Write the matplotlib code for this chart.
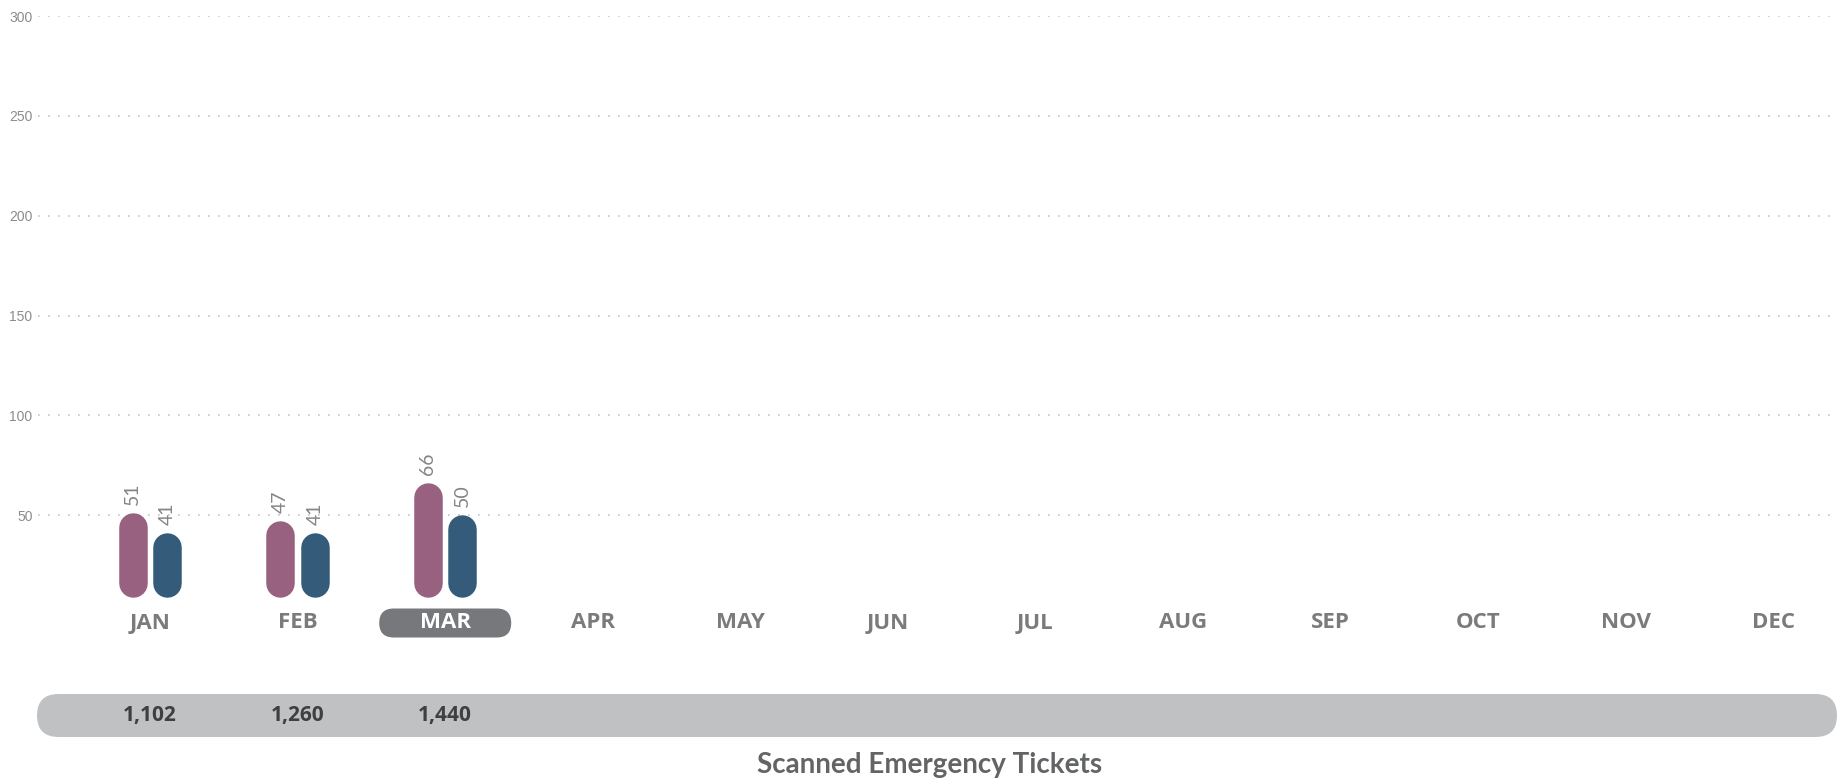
import matplotlib.pyplot as plt
import numpy as np
from matplotlib.patches import FancyBboxPatch
from matplotlib.transforms import blended_transform_factory

months = ["JAN", "FEB", "MAR", "APR", "MAY", "JUN",
          "JUL", "AUG", "SEP", "OCT", "NOV", "DEC"]
series_a = [51, 47, 66]   # pink bars
series_b = [41, 41, 50]   # blue bars
totals = ["1,102", "1,260", "1,440"]
current_month = "MAR"
yticks = [50, 100, 150, 200, 250, 300]
title = "Scanned Emergency Tickets"

pink = "#97617f"
blue = "#345c7a"
grey_txt = "#7b7b7d"
pill_col = "#77787b"
band_col = "#c0c1c3"

W, H, DPI = 1838, 780, 100
fig = plt.figure(figsize=(W / DPI, H / DPI), dpi=DPI)

# main plot area (pixel layout of the reference)
ax = fig.add_axes([38 / W, 1 - 615 / H, 1800 / W, 599 / H])
ax.set_xlim(-0.76, 11.44)
ax.set_ylim(0, 300)
for s in ax.spines.values():
    s.set_visible(False)
ax.set_xticks([])
ax.set_yticks(yticks)
ax.tick_params(axis="y", length=0, pad=4, labelsize=10, labelcolor="#8c8c8c")
for lab in ax.get_yticklabels():
    lab.set_family("Liberation Sans")
ax.grid(axis="y", color="#c4c4c4", linestyle=(0, (1, 5)), linewidth=1.2)
ax.set_axisbelow(True)

# bar geometry
bar_px = 28.5
off = 0.117
base = 9
px_per_y = 599 / 300
r = bar_px / 2 / px_per_y
lw = bar_px * 72 / DPI

x = np.arange(len(series_a))
for xs, vals, col in [(x - off, series_a, pink), (x + off, series_b, blue)]:
    for xi, v in zip(xs, vals):
        ax.plot([xi, xi], [base + r, v - r], color=col, lw=lw,
                solid_capstyle="round", zorder=3)
        ax.annotate(str(v), (xi, v), xytext=(0, 6), textcoords="offset points",
                    rotation=90, ha="center", va="bottom", fontsize=14,
                    family="Lato", color="#858585")

# x data / figure-fraction y
xfig = blended_transform_factory(ax.transData, fig.transFigure)

# month labels
label_y = 1 - 623 / H
for i, m in enumerate(months):
    if m == current_month:
        cx = ax.transData.transform((i, 0))[0] / DPI
        pw, ph = 132 / DPI, 29 / DPI
        cy = label_y * H / DPI
        pill = FancyBboxPatch((cx - pw / 2, cy - ph / 2), pw, ph,
                              boxstyle=f"round,pad=0,rounding_size={ph / 2}",
                              transform=fig.dpi_scale_trans, fc=pill_col,
                              ec="none", zorder=4, clip_on=False)
        ax.add_patch(pill)
        col = "white"
    else:
        col = grey_txt
    ax.text(i, label_y, m, transform=xfig, ha="center", va="center",
            fontsize=16, weight="bold", family="Open Sans", color=col,
            clip_on=False, zorder=5)

# totals band
bx, bw = 37 / DPI, 1800 / DPI
by, bh = 43 / DPI, 43 / DPI
band = FancyBboxPatch((bx, by), bw, bh,
                      boxstyle=f"round,pad=0,rounding_size={bh / 2}",
                      transform=fig.dpi_scale_trans, fc=band_col, ec="none",
                      zorder=1, clip_on=False)
ax.add_patch(band)
band_y = (by + bh / 2) * DPI / H
for i, t in enumerate(totals):
    ax.text(i, band_y, t, transform=xfig, ha="center", va="center",
            fontsize=15, weight="bold", family="Open Sans", color="#3f3f41",
            clip_on=False, zorder=5)

fig.text(930 / W, 7 / H, title, ha="center", va="baseline", fontsize=20,
         weight="bold", family="Lato", color="#636466")

fig.savefig("out.png", dpi=DPI)
